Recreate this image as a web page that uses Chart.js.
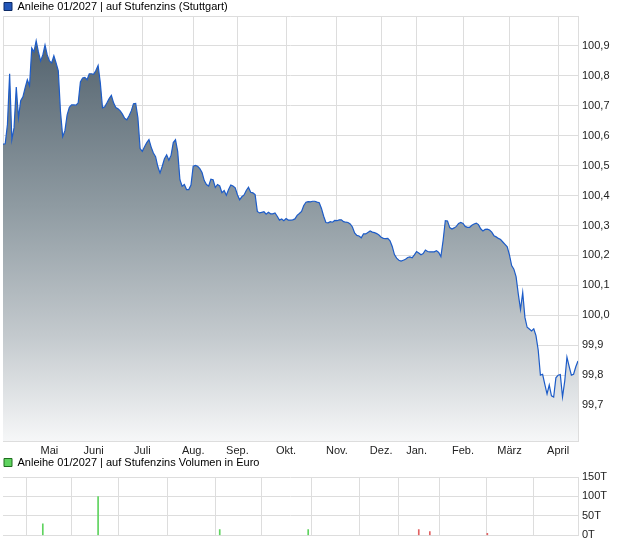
<!DOCTYPE html>
<html>
<head>
<meta charset="utf-8">
<script src="https://cdn.jsdelivr.net/npm/chart.js@4.4.1/dist/chart.umd.min.js"></script>
<style>
  html, body { margin: 0; padding: 0; background: #fff; }
  #wrap { width: 620px; height: 546px; position: relative; }
  .box { position: absolute; left: 0; width: 620px; }
  #priceBox { top: 0; height: 458px; }
  #volBox { top: 456px; height: 90px; }
</style>
</head>
<body>
<div id="wrap">
  <div class="box" id="priceBox"><canvas id="priceChart"></canvas></div>
  <div class="box" id="volBox"><canvas id="volumeChart"></canvas></div>
</div>
<script>
// month labels and the trading-day index where each month starts
const monthNames = ['Mai', 'Juni', 'Juli', 'Aug.', 'Sep.', 'Okt.', 'Nov.', 'Dez.', 'Jan.', 'Feb.', 'März', 'April'];
const monthStarts = [21, 41, 63, 86, 106, 128, 151, 171, 187, 208, 229, 251];

// daily price (Stuttgart), one value per trading day
const prices = [
  100.572, 100.573, 100.637, 100.807, 100.587, 100.627, 100.763, 100.660, 100.717, 100.730,
  100.760, 100.787, 100.767, 100.893, 100.880, 100.917, 100.880, 100.850, 100.870, 100.903,
  100.870, 100.850, 100.843, 100.867, 100.843, 100.817, 100.680, 100.597, 100.617, 100.670,
  100.695, 100.703, 100.703, 100.702, 100.710, 100.780, 100.793, 100.795, 100.787, 100.807,
  100.807, 100.805, 100.818, 100.835, 100.777, 100.693, 100.697, 100.710, 100.724, 100.735,
  100.710, 100.694, 100.690, 100.683, 100.672, 100.658, 100.653, 100.667, 100.683, 100.707,
  100.708, 100.660, 100.557, 100.548, 100.563, 100.577, 100.587, 100.562, 100.542, 100.530,
  100.497, 100.476, 100.498, 100.523, 100.536, 100.518, 100.535, 100.577, 100.587, 100.547,
  100.453, 100.431, 100.437, 100.420, 100.420, 100.435, 100.498, 100.501, 100.498, 100.490,
  100.477, 100.450, 100.437, 100.432, 100.455, 100.453, 100.427, 100.437, 100.432, 100.410,
  100.417, 100.401, 100.420, 100.435, 100.432, 100.426, 100.403, 100.386, 100.396, 100.402,
  100.417, 100.428, 100.411, 100.409, 100.403, 100.347, 100.342, 100.344, 100.346, 100.338,
  100.344, 100.339, 100.339, 100.342, 100.331, 100.318, 100.322, 100.316, 100.323, 100.318,
  100.318, 100.319, 100.322, 100.334, 100.340, 100.347, 100.367, 100.378, 100.380, 100.379,
  100.381, 100.381, 100.378, 100.376, 100.357, 100.331, 100.310, 100.309, 100.313, 100.311,
  100.317, 100.316, 100.319, 100.319, 100.313, 100.311, 100.310, 100.305, 100.295, 100.275,
  100.267, 100.265, 100.259, 100.272, 100.272, 100.277, 100.282, 100.278, 100.276, 100.273,
  100.268, 100.261, 100.257, 100.256, 100.257, 100.249, 100.230, 100.203, 100.191, 100.184,
  100.181, 100.184, 100.187, 100.193, 100.195, 100.192, 100.202, 100.213, 100.208, 100.202,
  100.206, 100.218, 100.213, 100.212, 100.212, 100.212, 100.216, 100.210, 100.196, 100.250,
  100.316, 100.315, 100.293, 100.288, 100.292, 100.297, 100.307, 100.310, 100.307, 100.297,
  100.294, 100.294, 100.301, 100.305, 100.308, 100.303, 100.289, 100.282, 100.287, 100.288,
  100.285, 100.278, 100.266, 100.262, 100.257, 100.253, 100.245, 100.237, 100.229, 100.202,
  100.166, 100.154, 100.129, 100.071, 100.020, 100.076, 99.993, 99.960, 99.954, 99.948,
  99.955, 99.932, 99.884, 99.800, 99.803, 99.769, 99.737, 99.767, 99.731, 99.727,
  99.791, 99.800, 99.802, 99.727, 99.780, 99.860, 99.829, 99.800, 99.803, 99.828,
  99.847
];
const priceTicks = [99.7, 99.8, 99.9, 100.0, 100.1, 100.2, 100.3, 100.4, 100.5, 100.6, 100.7, 100.8, 100.9, 101.0];

// volume in euro, only on days with turnover
const volDays = [18, 43, 98, 138, 188, 193, 219];
const volAmounts = [30000, 100000, 15000, 15000, 15000, 10000, 5000];
const volUp = [true, true, true, true, false, false, false];
const volTicks = [0, 50000, 100000, 150000];

Chart.defaults.font.family = '"Liberation Sans", Arial, sans-serif';
Chart.defaults.font.size = 11;
Chart.defaults.color = '#222';

const gridColor = '#dddddd';
const lastDay = prices.length - 1;

function monthTicks(scale) {
    scale.ticks = [0].concat(monthStarts).map(v => ({ value: v }));
}

const priceCtx = document.getElementById('priceChart').getContext('2d');
const priceChart = new Chart(priceCtx, {
    type: 'line',
    data: {
        datasets: [{
            label: 'Anleihe 01/2027 | auf Stufenzins (Stuttgart)',
            data: prices.map((p, i) => ({ x: i, y: p })),
            borderColor: '#1d5cc8',
            borderWidth: 1.2,
            pointRadius: 0,
            tension: 0,
            fill: 'start',
            backgroundColor: function (context) {
                const { ctx, chartArea } = context.chart;
                if (!chartArea) return null;
                const g = ctx.createLinearGradient(0, chartArea.top, 0, chartArea.bottom);
                g.addColorStop(0, '#4b5b67');
                g.addColorStop(0.45, '#8f9ba2');
                g.addColorStop(0.75, '#c3c9cd');
                g.addColorStop(1, '#f6f7f8');
                return g;
            }
        }]
    },
    options: {
        responsive: true,
        maintainAspectRatio: false,
        animation: false,
        layout: { padding: { left: 3, top: 0, right: 0, bottom: 0 } },
        scales: {
            x: {
                type: 'linear',
                min: 0,
                max: lastDay,
                afterBuildTicks: monthTicks,
                afterFit: (scale) => { scale.height = 17; },
                grid: { color: gridColor, drawTicks: false },
                border: { color: gridColor },
                ticks: {
                    autoSkip: false,
                    maxRotation: 0,
                    padding: 3,
                    callback: (v) => {
                        const k = monthStarts.indexOf(v);
                        return k >= 0 ? monthNames[k] : '';
                    }
                }
            },
            y: {
                position: 'right',
                min: 99.58,
                max: 101.0,
                afterBuildTicks: (scale) => { scale.ticks = priceTicks.map(v => ({ value: v })); },
                afterFit: (scale) => { scale.width = 42; },
                grid: { color: gridColor, drawTicks: false },
                border: { color: gridColor },
                ticks: {
                    padding: 4,
                    callback: (v) => v >= 101 ? '' : v.toFixed(1).replace('.', ',')
                }
            }
        },
        plugins: {
            tooltip: { enabled: false },
            legend: {
                position: 'top',
                align: 'start',
                maxHeight: 16,
                labels: {
                    boxWidth: 8,
                    boxHeight: 8,
                    padding: 1,
                    generateLabels: (chart) => [{
                        text: chart.data.datasets[0].label,
                        fillStyle: '#2356b8',
                        strokeStyle: '#0c2a66',
                        lineWidth: 1,
                        hidden: false,
                        datasetIndex: 0
                    }]
                }
            }
        }
    }
});

const volCtx = document.getElementById('volumeChart').getContext('2d');
const volumeChart = new Chart(volCtx, {
    type: 'bar',
    data: {
        datasets: [{
            label: 'Anleihe 01/2027 | auf Stufenzins Volumen in Euro',
            data: volDays.map((d, i) => ({ x: d, y: volAmounts[i] })),
            backgroundColor: volUp.map(u => u ? '#5fd35f' : '#e26262'),
            barThickness: 1,
            grouped: false
        }]
    },
    options: {
        responsive: true,
        maintainAspectRatio: false,
        animation: false,
        layout: { padding: { left: 3, top: 0, right: 0, bottom: 10 } },
        scales: {
            x: {
                type: 'linear',
                min: 0,
                max: lastDay,
                offset: false,
                afterBuildTicks: monthTicks,
                afterFit: (scale) => { scale.height = 0; },
                grid: { color: gridColor, drawTicks: false },
                border: { color: gridColor },
                ticks: { display: false }
            },
            y: {
                position: 'right',
                min: 0,
                max: 150000,
                afterBuildTicks: (scale) => { scale.ticks = volTicks.map(v => ({ value: v })); },
                afterFit: (scale) => { scale.width = 42; },
                grid: { color: gridColor, drawTicks: false },
                border: { color: gridColor },
                ticks: {
                    padding: 4,
                    callback: (v) => (v / 1000) + 'T'
                }
            }
        },
        plugins: {
            tooltip: { enabled: false },
            legend: {
                position: 'top',
                align: 'start',
                maxHeight: 21,
                labels: {
                    boxWidth: 8,
                    boxHeight: 8,
                    padding: 1,
                    generateLabels: (chart) => [{
                        text: chart.data.datasets[0].label,
                        fillStyle: '#5fd35f',
                        strokeStyle: '#1f6e1f',
                        lineWidth: 1,
                        hidden: false,
                        datasetIndex: 0
                    }]
                }
            }
        }
    }
});
</script>
</body>
</html>
